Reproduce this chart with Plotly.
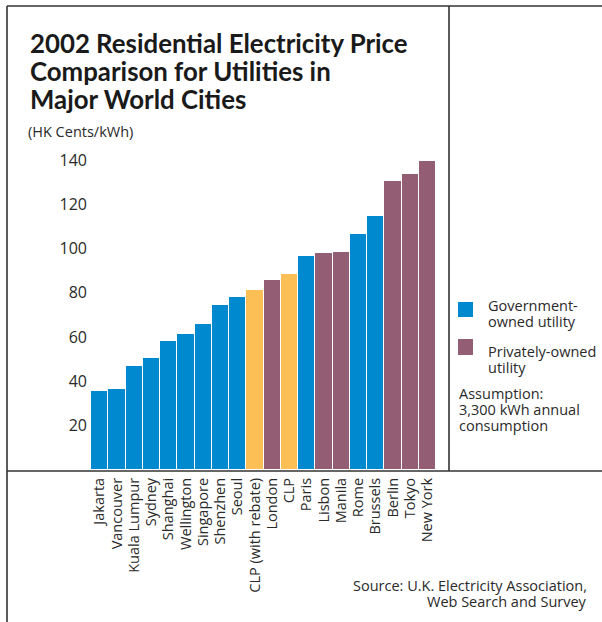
import plotly.graph_objects as go

cities = ["Jakarta", "Vancouver", "Kuala Lumpur", "Sydney", "Shanghai", "Wellington",
          "Singapore", "Shenzhen", "Seoul", "CLP (with rebate)", "London", "CLP",
          "Paris", "Lisbon", "Manila", "Rome", "Brussels", "Berlin", "Tokyo", "New York"]
prices = [35.7, 36.6, 47.0, 50.6, 58.3, 61.4, 65.9, 74.5, 78.1, 81.3, 85.8, 88.5,
          96.7, 98.0, 98.4, 106.6, 114.7, 130.5, 133.7, 139.6]
ownership = ["gov", "gov", "gov", "gov", "gov", "gov", "gov", "gov", "gov", "clp", "priv", "clp",
             "gov", "priv", "priv", "gov", "gov", "priv", "priv", "priv"]
y_ticks = [20, 40, 60, 80, 100, 120, 140]
title_lines = ["2002 Residential Electricity Price", "Comparison for Utilities in", "Major World Cities"]

COLORS = {"gov": "#0089CF", "priv": "#935E74", "clp": "#FBBF55"}
FONT = "Open Sans, Noto Sans, DejaVu Sans, sans-serif"
TFONT = "Lato, Open Sans, sans-serif"
TXT = "#2a2a2a"
SMALL = 14.5

W, H = 602, 622
L, R, T, B = 91, 166, 160, 152   # plot area: x 91..436, y 160..470
PW, PH = W - L - R, H - T - B


def px(x):
    return (x - L) / PW


def py(y):
    return (H - B - y) / PH


fig = go.Figure()
fig.add_trace(go.Bar(
    x=cities, y=prices,
    marker=dict(color=[COLORS[o] for o in ownership], line=dict(color="white", width=1)),
    showlegend=False, hoverinfo="x+y",
))

shapes = []
line = dict(color="#333333", width=1.6)
# frame
shapes.append(dict(type="line", xref="paper", yref="paper", x0=px(7), x1=px(7), y0=py(6), y1=py(625), line=line))
shapes.append(dict(type="line", xref="paper", yref="paper", x0=px(7), x1=px(605), y0=py(6), y1=py(6), line=line))
shapes.append(dict(type="line", xref="paper", yref="paper", x0=px(449), x1=px(449), y0=py(6), y1=py(471), line=line))
shapes.append(dict(type="line", xref="paper", yref="paper", x0=px(7), x1=px(605), y0=py(471), y1=py(471), line=line))
# legend swatches
shapes.append(dict(type="rect", xref="paper", yref="paper", x0=px(458), x1=px(473), y0=py(302), y1=py(317),
                   fillcolor=COLORS["gov"], line=dict(width=0)))
shapes.append(dict(type="rect", xref="paper", yref="paper", x0=px(458), x1=px(473), y0=py(339), y1=py(355),
                   fillcolor=COLORS["priv"], line=dict(width=0)))

annotations = []
for i, t in enumerate(title_lines):
    annotations.append(dict(text="<b>%s</b>" % t, xref="paper", yref="paper", x=px(28), y=py(43 + 27.8 * i),
                            xanchor="left", yanchor="middle", align="left", showarrow=False,
                            font=dict(family=TFONT, size=25.8, color="#1a1a1a")))


def text_line(t, x, y, anchor="left"):
    return dict(text=t, xref="paper", yref="paper", x=px(x), y=py(y), xanchor=anchor, yanchor="middle",
                showarrow=False, font=dict(family=FONT, size=SMALL, color=TXT))


annotations += [
    text_line("(HK Cents/kWh)", 26, 131),
    text_line("Government-", 486, 305),
    text_line("owned utility", 486, 321),
    text_line("Privately-owned", 486, 351),
    text_line("utility", 486, 367),
    text_line("Assumption:", 457, 393),
    text_line("3,300 kWh annual", 457, 409),
    text_line("consumption", 457, 425),
    text_line("Source: U.K. Electricity Association,", 589, 585, "right"),
    text_line("Web Search and Survey", 589, 601, "right"),
]

fig.update_layout(
    width=W, height=H, margin=dict(l=L, r=R, t=T, b=B, autoexpand=False),
    paper_bgcolor="white", plot_bgcolor="white",
    bargap=0, barmode="overlay",
    shapes=shapes, annotations=annotations,
    font=dict(family=FONT, color=TXT),
)
fig.update_xaxes(range=[-0.5, 19.5], tickangle=-90, showline=False, showgrid=False, ticks="",
                 tickmode="array", tickvals=cities, ticktext=cities,
                 ticklabelstandoff=4,
                 tickfont=dict(family=FONT, size=14.5, color=TXT), fixedrange=True)
fig.update_yaxes(range=[0, 140], tickvals=y_ticks, showline=False, showgrid=False, zeroline=False, ticks="",
                 ticklabelstandoff=3,
                 tickfont=dict(family=FONT, size=16, color=TXT), fixedrange=True)

fig.write_html("out.html", config={"displayModeBar": False},
               post_script="document.body.style.margin='0';document.body.style.overflow='hidden';")
